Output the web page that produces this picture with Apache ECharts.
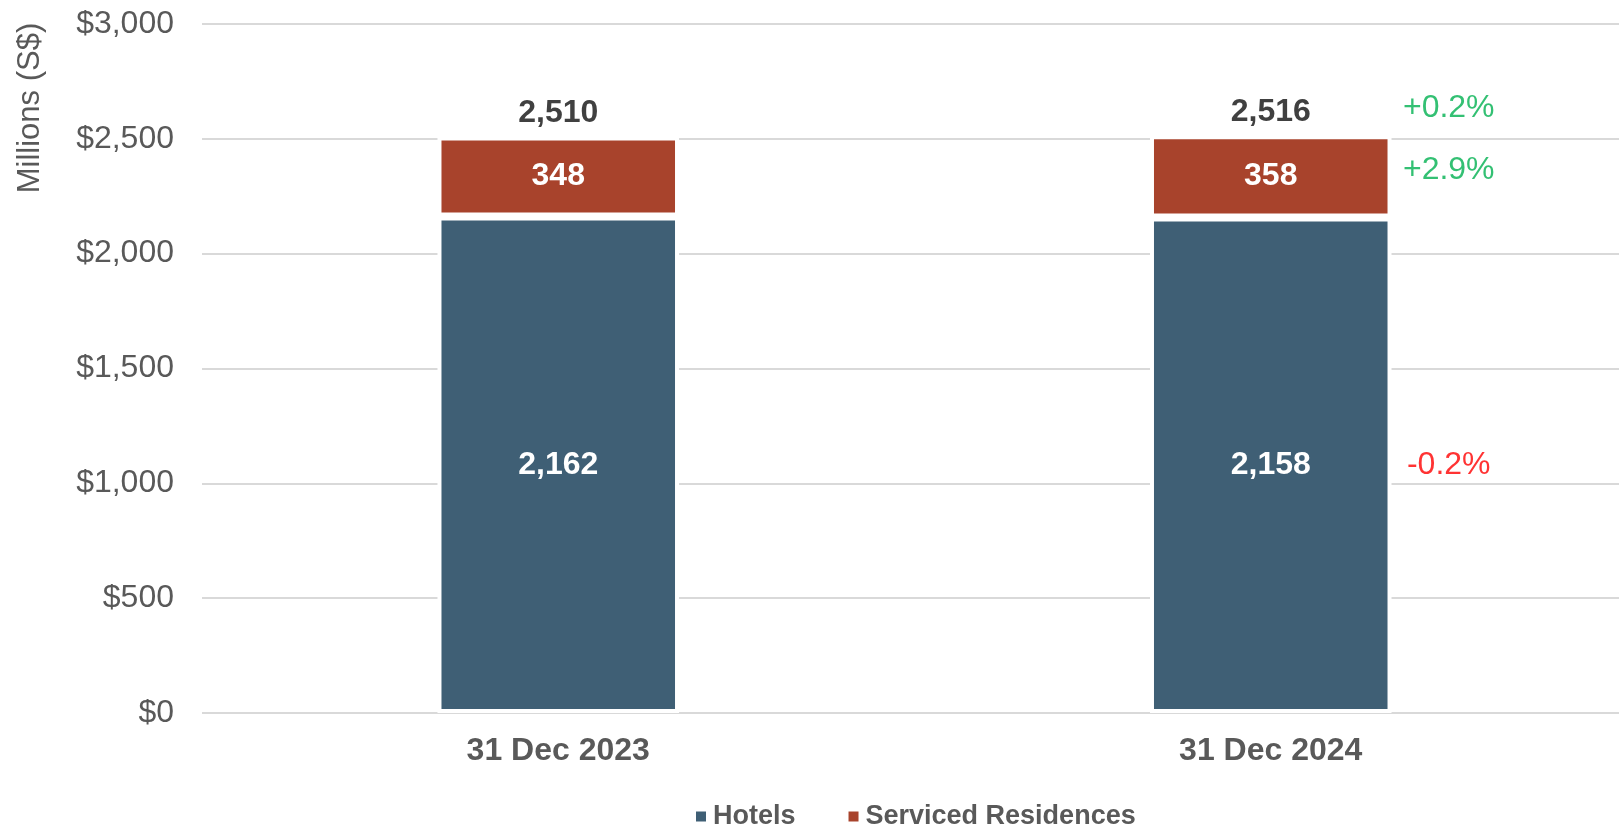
<!DOCTYPE html>
<html>
<head>
<meta charset="utf-8">
<script src="https://cdn.jsdelivr.net/npm/echarts@6/dist/echarts.min.js"></script>
<style>
  html, body { margin: 0; padding: 0; background: #ffffff; overflow: hidden; }
  /* plot area runs slightly past the right edge of the page */
  #chart { width: 1627px; height: 827px; }
</style>
</head>
<body>
<div id="chart"></div>
<script>
// Portfolio valuation by segment (S$ millions)
const categories = ['31 Dec 2023', '31 Dec 2024'];
const hotels = [2162, 2158];
const servicedResidences = [348, 358];
const totals = [2510, 2516];
// Year-on-year change: total, serviced residences, hotels
const changeLabels = ['+0.2%', '+2.9%', '-0.2%'];
const yTicks = { min: 0, max: 3000, interval: 500 };

const FONT = '"Liberation Sans", Arial, sans-serif';
const BLUE = '#3F5F75';
const RED = '#A8432C';
const GREY = '#595959';
const BAR_WIDTH = '33.9%';

const chart = echarts.init(document.getElementById('chart'), null, { renderer: 'canvas' });

// Change annotations sit to the right of the latest bar, beside each segment
const last = categories.length - 1;
const annotationPoints = [
  { value: [last, totals[last]], dy: -27 },
  { value: [last, hotels[last] + servicedResidences[last] / 2], dy: -6 },
  { value: [last, hotels[last] / 2], dy: 0 }
].map((p, i) => ({
  value: p.value,
  label: {
    formatter: changeLabels[i],
    color: changeLabels[i].startsWith('-') ? '#FF0000' : '#00B050',
    offset: [178, p.dy]
  }
}));

const option = {
  animation: false,
  textStyle: { fontFamily: FONT },
  grid: { left: 202, right: 0, top: 24, bottom: 114, containLabel: false },
  legend: {
    data: ['Hotels', 'Serviced Residences'],
    left: 691,
    top: 798,
    icon: 'rect',
    itemWidth: 10,
    itemHeight: 10,
    itemGap: 53,
    itemStyle: { borderWidth: 0 },
    textStyle: { fontFamily: FONT, fontSize: 27, fontWeight: 'bold', color: GREY, padding: [0, 0, 0, 2] }
  },
  xAxis: {
    type: 'category',
    data: categories,
    axisLine: { show: false },
    axisTick: { show: false },
    axisLabel: { margin: 22, fontFamily: FONT, fontSize: 32, fontWeight: 'bold', color: GREY }
  },
  yAxis: {
    type: 'value',
    min: yTicks.min,
    max: yTicks.max,
    interval: yTicks.interval,
    axisLine: { show: false },
    axisTick: { show: false },
    splitLine: { lineStyle: { color: '#D9D9D9', width: 2 } },
    axisLabel: {
      margin: 28,
      fontFamily: FONT,
      fontSize: 32,
      color: GREY,
      formatter: v => '$' + v.toLocaleString('en-US')
    }
  },
  graphic: [{
    type: 'text',
    x: 30,
    y: 108,
    rotation: Math.PI / 2,
    style: {
      text: 'Millions (S$)',
      font: '31px ' + FONT,
      fill: GREY,
      align: 'center',
      verticalAlign: 'middle'
    }
  }],
  series: [
    {
      name: 'Hotels',
      type: 'bar',
      stack: 'total',
      barWidth: BAR_WIDTH,
      data: hotels,
      itemStyle: { color: BLUE, borderColor: '#ffffff', borderWidth: 4 },
      label: {
        show: true, position: 'inside', color: '#ffffff',
        fontFamily: FONT, fontSize: 32, fontWeight: 'bold',
        formatter: p => p.value.toLocaleString('en-US')
      }
    },
    {
      name: 'Serviced Residences',
      type: 'bar',
      stack: 'total',
      barWidth: BAR_WIDTH,
      data: servicedResidences,
      itemStyle: { color: RED, borderColor: '#ffffff', borderWidth: 4 },
      label: {
        show: true, position: 'inside', color: '#ffffff',
        fontFamily: FONT, fontSize: 32, fontWeight: 'bold',
        formatter: p => p.value.toLocaleString('en-US')
      }
    },
    {
      // zero-height cap carrying the stack total above each bar
      name: 'Total',
      type: 'bar',
      stack: 'total',
      barWidth: BAR_WIDTH,
      data: totals.map(() => 0),
      itemStyle: { color: 'transparent', borderWidth: 0 },
      label: {
        show: true, position: 'top', distance: 7, color: '#404040',
        fontFamily: FONT, fontSize: 32, fontWeight: 'bold',
        formatter: p => totals[p.dataIndex].toLocaleString('en-US')
      }
    },
    {
      name: 'Change',
      type: 'scatter',
      symbolSize: 1,
      itemStyle: { color: 'transparent' },
      data: annotationPoints,
      label: {
        show: true, position: 'inside', align: 'center', verticalAlign: 'middle',
        fontFamily: FONT, fontSize: 32
      }
    }
  ]
};

chart.setOption(option);
</script>
</body>
</html>
